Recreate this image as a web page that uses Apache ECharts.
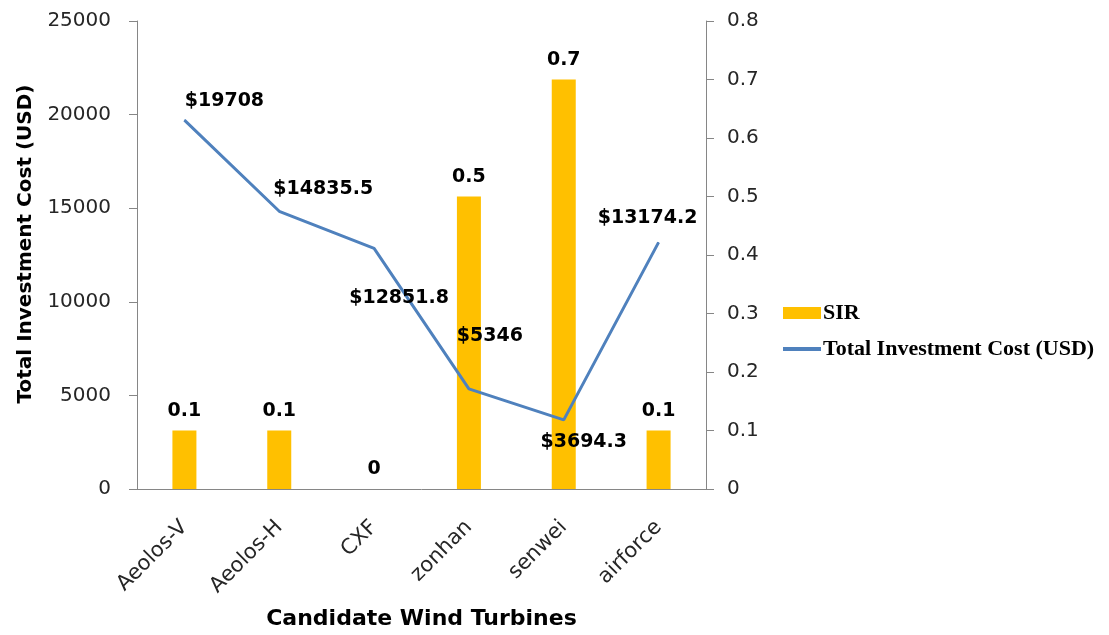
<!DOCTYPE html>
<html>
<head>
<meta charset="utf-8">
<script src="https://cdn.jsdelivr.net/npm/echarts@6/dist/echarts.min.js"></script>
<style>html,body{margin:0;padding:0;background:#fff;}#c{width:1109px;height:635px;}</style>
</head>
<body>
<div id="c"></div>
<script>
const categories = ['Aeolos-V', 'Aeolos-H', 'CXF', 'zonhan', 'senwei', 'airforce'];
const sirValues = [0.1, 0.1, 0, 0.5, 0.7, 0.1];
const costValues = [19708, 14835.5, 12851.8, 5346, 3694.3, 13174.2];
const costLabelOffsets = [[40, -4], [44, -7], [25, 65], [21, -38], [20, 37], [-11, -9]];

const chart = echarts.init(document.getElementById('c'), null, {renderer: 'canvas'});
const axisGrey = '#868686';
const txt = '#262626';
const sans = 'DejaVu Sans';
const lineColor = '#4F81BD';

chart.setOption({
  animation: false,
  backgroundColor: '#fff',
  grid: {left: 137, right: 403, top: 21, bottom: 145, containLabel: false},
  legend: {
    orient: 'vertical', left: 783, top: 302, padding: 0, itemGap: 14, itemWidth: 38, itemHeight: 12,
    textStyle: {fontFamily: 'Liberation Serif', fontWeight: 'bold', fontSize: 22, color: '#000', padding: [0, 0, 0, -3]},
    data: [
      {name: 'SIR', icon: 'rect'},
      {name: 'Total Investment Cost (USD)', icon: 'path://M0,0H38V4H0Z', itemStyle: {color: lineColor}}
    ]
  },
  xAxis: {
    type: 'category', data: categories,
    name: 'Candidate Wind Turbines', nameLocation: 'middle', nameGap: 119,
    nameTextStyle: {fontFamily: sans, fontWeight: 'bold', fontSize: 22, color: '#000'},
    axisLine: {lineStyle: {color: axisGrey, width: 1}},
    axisTick: {show: false},
    axisLabel: {rotate: 45, fontFamily: sans, fontSize: 21, color: txt, margin: 35}
  },
  yAxis: [
    {
      type: 'value', min: 0, max: 25000, interval: 5000, position: 'left',
      name: 'Total Investment Cost (USD)', nameLocation: 'middle', nameGap: 101, nameRotate: 90,
      nameTextStyle: {fontFamily: sans, fontWeight: 'bold', fontSize: 20, color: '#000', padding: [0, 0, 0, 22]},
      axisLine: {show: true, lineStyle: {color: axisGrey}},
      axisTick: {show: true, length: 8, lineStyle: {color: axisGrey}},
      splitLine: {show: false},
      axisLabel: {fontFamily: sans, fontSize: 20, color: txt, margin: 26, formatter: v => String(v)}
    },
    {
      type: 'value', min: 0, max: 0.8, interval: 0.1, position: 'right',
      axisLine: {show: true, lineStyle: {color: axisGrey}},
      axisTick: {show: true, length: 8, lineStyle: {color: axisGrey}},
      splitLine: {show: false},
      axisLabel: {fontFamily: sans, fontSize: 20, color: txt, margin: 21, formatter: v => String(+v.toFixed(1))}
    }
  ],
  series: [
    {
      name: 'SIR', type: 'bar', yAxisIndex: 1, data: sirValues, barWidth: 24,
      itemStyle: {color: '#FFC000'},
      label: {show: true, position: 'top', distance: 10, fontFamily: sans, fontWeight: 'bold', fontSize: 19, color: '#000'},
      z: 2
    },
    {
      name: 'Total Investment Cost (USD)', type: 'line', yAxisIndex: 0,
      symbol: 'circle', symbolSize: 1, showSymbol: true,
      lineStyle: {color: lineColor, width: 3}, itemStyle: {color: lineColor},
      data: costValues.map((v, i) => ({
        value: v,
        label: {show: true, position: 'top', distance: 5, offset: costLabelOffsets[i],
          formatter: '$' + v, fontFamily: sans, fontWeight: 'bold', fontSize: 19, color: '#000'}
      })),
      z: 3
    }
  ]
});
</script>
</body>
</html>
